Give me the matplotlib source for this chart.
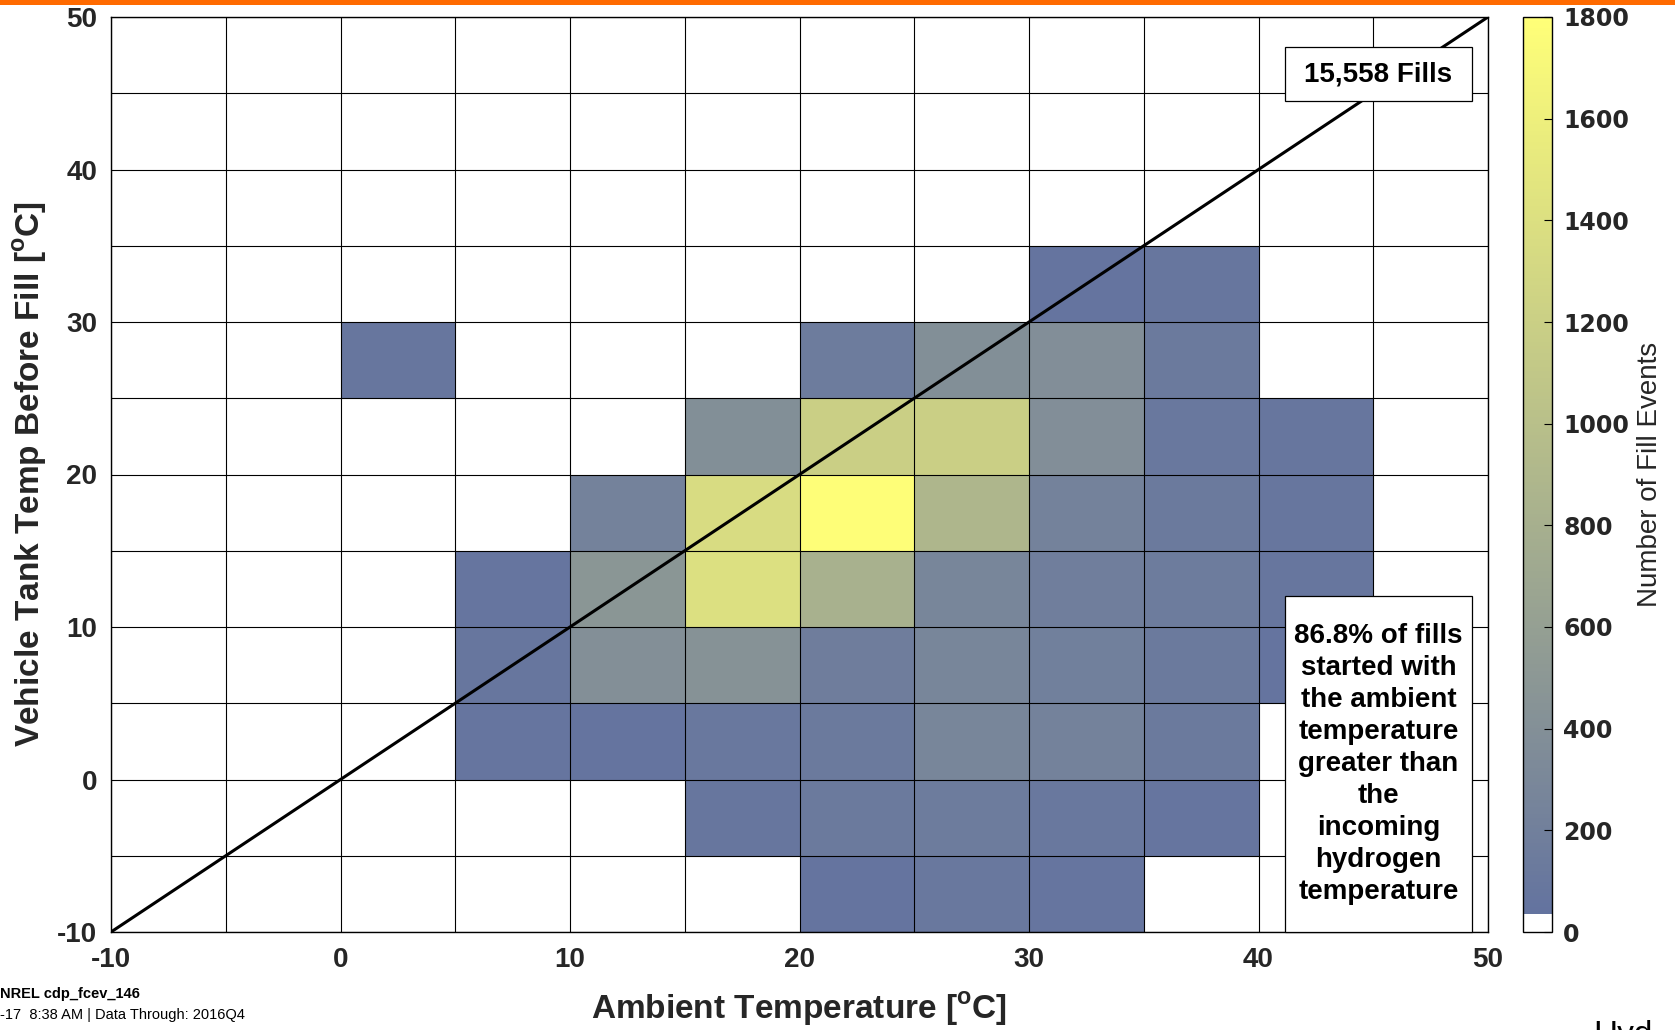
import numpy as np
import matplotlib
matplotlib.use("Agg")
import matplotlib.pyplot as plt
from matplotlib.colors import ListedColormap
from matplotlib.patches import Rectangle

# ---------------- data ----------------
x_edges = np.arange(-10, 55, 5)   # ambient temperature bins
y_edges = np.arange(-10, 55, 5)   # tank temperature bins
# counts[row for y bin, col for x bin]; bins -10..50 in steps of 5
# x bins:      -10 -5  0  5   10   15    20    25   30   35   40  45
row_m10 = [0, 0, 0, 0, 0, 0, 60, 100, 70, 0, 0, 0]
row_m5  = [0, 0, 0, 0, 0, 80, 120, 150, 100, 70, 0, 0]
row_0   = [0, 0, 0, 70, 60, 100, 130, 280, 230, 120, 0, 0]
row_5   = [0, 0, 0, 80, 400, 430, 170, 280, 200, 120, 60, 0]
row_10  = [0, 0, 0, 70, 480, 1400, 820, 280, 180, 150, 80, 0]
row_15  = [0, 0, 0, 0, 230, 1350, 1790, 880, 230, 120, 80, 0]
row_20  = [0, 0, 0, 0, 0, 390, 1200, 1200, 380, 100, 80, 0]
row_25  = [0, 0, 80, 0, 0, 0, 150, 390, 380, 120, 0, 0]
row_30  = [0, 0, 0, 0, 0, 0, 0, 0, 60, 80, 0, 0]
row_35  = [0] * 12
row_40  = [0] * 12
row_45  = [0] * 12
counts = np.array([row_m10, row_m5, row_0, row_5, row_10, row_15,
                   row_20, row_25, row_30, row_35, row_40, row_45], dtype=float)

x_ticks = [-10, 0, 10, 20, 30, 40, 50]
y_ticks = [-10, 0, 10, 20, 30, 40, 50]
cbar_ticks = [0, 200, 400, 600, 800, 1000, 1200, 1400, 1600, 1800]
total_label = "15,558 Fills"
note_label = ("86.8% of fills\nstarted with\nthe ambient\ntemperature\ngreater than\n"
              "the\nincoming\nhydrogen\ntemperature")

# ---------------- style ----------------
plt.rcParams['font.family'] = ['Liberation Sans', 'DejaVu Sans']
plt.rcParams['mathtext.fontset'] = 'custom'
plt.rcParams['mathtext.rm'] = 'Liberation Sans'
plt.rcParams['mathtext.bf'] = 'Liberation Sans:bold'
plt.rcParams['axes.unicode_minus'] = False
TXT = '#262626'

# colormap: white for ~0, then blue-grey -> yellow
n = 256
c0 = np.array([96, 112, 160]) / 255.0
c1 = np.array([255, 255, 120]) / 255.0
t = np.linspace(0, 1, n)[:, None]
cols = c0 * (1 - t) + c1 * t
cols = np.hstack([cols, np.ones((n, 1))])
cols[:5] = [1, 1, 1, 1]
cmap = ListedColormap(cols)

fig = plt.figure(figsize=(16.75, 10.3), dpi=100)

# orange band at top
fig.patches.append(Rectangle((0, 1 - 5 / 1030), 1, 5 / 1030, transform=fig.transFigure,
                             facecolor='#FF6A00', edgecolor='none', zorder=0))

ax = fig.add_axes([111 / 1675, 98 / 1030, (1488 - 111) / 1675, (932 - 17) / 1030])
mesh = ax.pcolormesh(x_edges, y_edges, counts, cmap=cmap, vmin=0, vmax=1800,
                     shading='flat', zorder=1)

ax.set_xlim(-10, 50)
ax.set_ylim(-10, 50)
ax.set_xticks(x_ticks)
ax.set_yticks(y_ticks)
ax.set_xticks(np.arange(-5, 50, 10), minor=True)
ax.set_yticks(np.arange(-5, 50, 10), minor=True)
ax.grid(which='both', color='black', linewidth=0.8, zorder=2)
ax.set_axisbelow(False)
ax.tick_params(which='both', length=0)
ax.tick_params(axis='x', pad=11, labelsize=20, labelcolor=TXT)
ax.tick_params(axis='y', pad=10, labelsize=20, labelcolor=TXT)
for lab in ax.get_xticklabels() + ax.get_yticklabels():
    lab.set_fontweight('bold')
for s in ax.spines.values():
    s.set_color('black')
    s.set_linewidth(1.0)

# diagonal y = x
ax.plot([-10, 50], [-10, 50], color='black', linewidth=2.2, zorder=3)

ax.set_xlabel(r'Ambient Temperature [$^{\mathbf{o}}$C]', fontsize=24, fontweight='bold',
              color=TXT, va='center')
ax.set_ylabel(r'Vehicle Tank Temp Before Fill [$^{\mathbf{o}}$C]', fontsize=24,
              fontweight='bold', color=TXT, va='center')
ax.xaxis.set_label_coords(0.5, (932 - 1009) / 915)
ax.yaxis.set_label_coords((30 - 111) / 1377, 0.5)

# annotation boxes
bx0, bx1 = 41.16, 49.3
ax.add_patch(Rectangle((bx0, 44.47), bx1 - bx0, 48.04 - 44.47, facecolor='white',
                       edgecolor='black', linewidth=0.9, zorder=5))
ax.text((bx0 + bx1) / 2, 46.25, total_label, ha='center', va='center', fontsize=20,
        fontweight='bold', color='black', zorder=6)
ax.add_patch(Rectangle((bx0, -10), bx1 - bx0, 12.05 + 10, facecolor='white',
                       edgecolor='black', linewidth=0.9, zorder=5, clip_on=False))
ax.text((bx0 + bx1) / 2, 1.0, note_label, ha='center', va='center', fontsize=20,
        fontweight='bold', color='black', linespacing=1.3, zorder=6)

# colorbar
cax = fig.add_axes([1523 / 1675, 98 / 1030, 29 / 1675, (932 - 17) / 1030])
cb = fig.colorbar(mesh, cax=cax, ticks=cbar_ticks)
cb.outline.set_linewidth(1.0)
cb.outline.set_edgecolor('black')
cax.tick_params(direction='in', length=6, width=0.8, labelsize=17, labelcolor=TXT, pad=8)
for lab in cax.get_yticklabels():
    lab.set_fontweight('heavy')
    lab.set_family(['DejaVu Sans'])
cb.set_label('Number of Fill Events', fontsize=20, color=TXT, va='center',
             family=['Liberation Sans Narrow', 'Liberation Sans', 'DejaVu Sans'])
cax.yaxis.set_label_coords((1650 - 1523) / 29, 0.5)

# footer texts
fig.text(0.0, 1 - 994 / 1030, 'NREL cdp_fcev_146', ha='left', va='center',
         fontsize=10.5, fontweight='bold', color='black')
fig.text(0.0, 1 - 1015 / 1030, '-17  8:38 AM | Data Through: 2016Q4', ha='left',
         va='center', fontsize=10.5, color='black')
fig.text(1593 / 1675, 1 - 1020 / 1030, 'Hyd', ha='left', va='top', fontsize=24,
         color='black')

fig.savefig('out.png', dpi=100)
